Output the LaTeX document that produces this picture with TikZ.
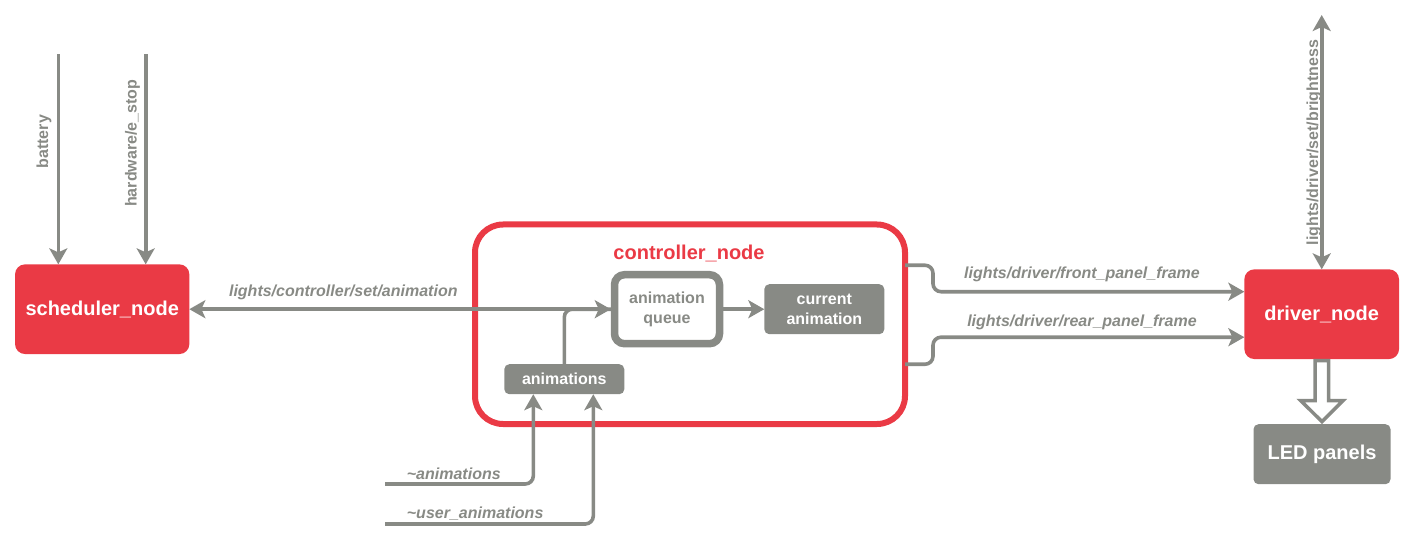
\documentclass[tikz,border=0pt]{standalone}
\usepackage{fontspec}
\setmainfont{Liberation Sans}
\usetikzlibrary{arrows.meta, positioning, calc}
\definecolor{rosred}{HTML}{EA3A45}
\definecolor{rosgray}{HTML}{888A85}
\newcommand{\rosbig}{\fontsize{20}{24}\selectfont\bfseries}
\newcommand{\rossmall}{\fontsize{16}{20}\selectfont\bfseries}
\newcommand{\rostopic}{\fontsize{16}{20}\selectfont\bfseries\itshape}

\begin{document}
\begin{tikzpicture}[x=1pt, y=-1pt,
    rosnode/.style={fill=rosred, rounded corners=10pt, text=white, font=\rosbig, inner sep=0pt, outer sep=0pt},
    subbox/.style={fill=rosgray, rounded corners=5pt, text=white, font=\rossmall, align=center, inner sep=0pt, outer sep=0pt},
    conn/.style={draw=rosgray, line width=3.6pt, rounded corners=8pt, -{Stealth[length=16pt,width=18pt,inset=4pt]}},
    twoway/.style={conn, {Stealth[length=16pt,width=18pt,inset=4pt]}-{Stealth[length=16pt,width=18pt,inset=4pt]}},
    topic/.style={text=rosgray, font=\rostopic, inner sep=0pt},
    fat/.style={draw=rosgray, fill=white, line width=3.5pt}]
      \useasboundingbox (0, 0) rectangle (1408, 548);

      % controller box
      \node[draw=rosred, line width=6pt, rounded corners=28pt, minimum width=430pt, minimum height=199.5pt, inner sep=0pt, outer sep=0pt] (controller) at (690, 324.25) {};
      \node[text=rosred, font=\rosbig, inner sep=0pt, anchor=base] (ctrltitle) at (689, 259) {controller\_node};

      \node[rosnode, minimum width=174.3pt, minimum height=89.7pt] (scheduler) at (102.2, 309.2) {scheduler\_node};
      \node[rosnode, minimum width=154.7pt, minimum height=89.7pt] (driver) at (1321.7, 314.2) {driver\_node};
      \node[subbox, minimum width=137pt, minimum height=60pt, font=\rosbig] (LED) at (1322, 454.2) {LED panels};

      \node[draw=rosgray, line width=7.5pt, rounded corners=10pt, fill=white, text=rosgray, font=\rossmall, align=center, inner sep=0pt, outer sep=3.75pt, minimum width=105pt, minimum height=69pt] (queue) at (667, 309.2) {animation\\queue};
      \node[subbox, minimum width=120pt, minimum height=50pt] (current) at (824.3, 309.2) {current\\animation};
      \node[subbox, minimum width=120pt, minimum height=30pt] (animations) at (564.3, 379.2) {animations};

      % free ends
      \coordinate (batt) at (58.3, 54.3);
      \coordinate (estop) at (145.7, 54.3);
      \coordinate (bright) at (1321.7, 15);
      \coordinate (animsrc) at (385, 484);
      \coordinate (usersrc) at (385, 524);

      \draw[conn] (batt) -- (batt |- scheduler.north);
      \draw[conn] (estop) -- (estop |- scheduler.north);
      \node[topic, rotate=90, anchor=base, font=\rossmall] (battlbl) at (48.2, 141.7) {battery};
      \node[topic, rotate=90, anchor=base, font=\rossmall] (estoplbl) at (136.5, 143.3) {hardware/e\_stop};

      \draw[twoway] (scheduler.east) -- (queue.west);
      \node[topic, anchor=base] (setanim) at (343.3, 296.5) {lights/controller/set/animation};
      \draw[conn, -] (animations.north) |- (queue.west);
      \draw[conn] (queue.east) -- (current.west);

      \draw[conn] (animsrc) -| ([xshift=-31pt]animations.south);
      \draw[conn] (usersrc) -| ([xshift=29pt]animations.south);
      \node[topic, anchor=base west] (animlbl) at (406.7, 479) {\textasciitilde animations};
      \node[topic, anchor=base west] (userlbl) at (406.7, 518.3) {\textasciitilde user\_animations};

      \draw[conn] ([yshift=59pt]controller.east) -- ++(28, 0) |- ([yshift=22.5pt]driver.west);
      \draw[conn] ([yshift=-40pt]controller.east) -- ++(28, 0) |- ([yshift=-23pt]driver.west);
      \node[topic, anchor=base] (frontlbl) at (1082, 278) {lights/driver/front\_panel\_frame};
      \node[topic, anchor=base] (rearlbl) at (1082, 326.3) {lights/driver/rear\_panel\_frame};

      \draw[twoway] (bright) -- (driver.north);
      \node[topic, rotate=90, anchor=base, font=\rossmall] (brightlbl) at (1318, 142.5) {lights/driver/set/brightness};

      % hollow arrow to the panels
      \draw[fat] ($(driver.south)+(-6.5, 1.5)$) -- ++(0, 40) -- ++(-14.5, 0) -- ($(LED.north)+(0, -2.5)$) -- ++(21, -21) -- ++(-14.5, 0) -- ++(0, -40) -- cycle;

    \end{tikzpicture}
\end{document}
